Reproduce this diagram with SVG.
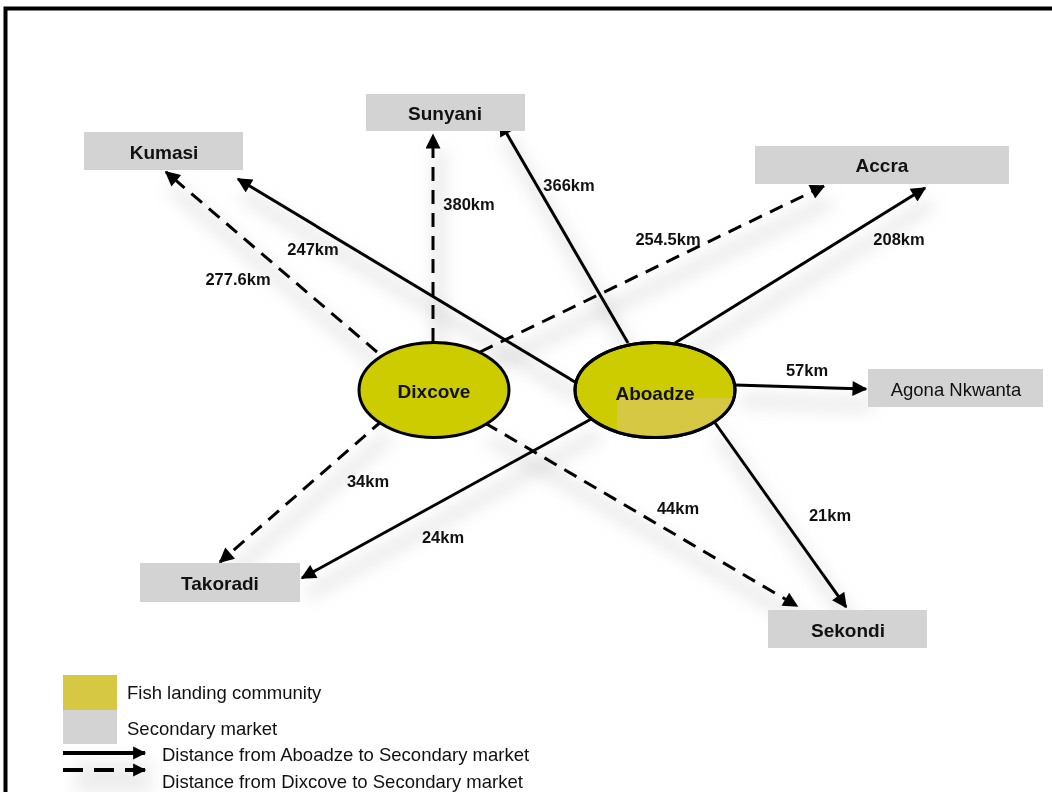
<svg xmlns="http://www.w3.org/2000/svg" width="1052" height="792" viewBox="0 0 1052 792">
<style>
.box{fill:#d3d3d3}
.bt{font-family:"Liberation Sans",Arial,sans-serif;font-weight:bold;font-size:19px;fill:#111;text-anchor:middle}
.nt{font-family:"Liberation Sans",Arial,sans-serif;font-size:18.5px;fill:#111;text-anchor:middle}
.lb{font-family:"Liberation Sans",Arial,sans-serif;font-weight:bold;font-size:16.5px;fill:#111;text-anchor:middle}
.lg{font-family:"Liberation Sans",Arial,sans-serif;font-size:18.5px;fill:#111}
.ell{fill:#cccc00;stroke:#000;stroke-width:3}
.s{stroke:#000;stroke-width:3;fill:none;marker-end:url(#ah)}
.d{stroke:#000;stroke-width:3;fill:none;stroke-dasharray:14 9;marker-end:url(#ah)}
.ls{stroke:#000;stroke-width:4;fill:none;marker-end:url(#ahl)}
.ld{stroke:#000;stroke-width:4;fill:none;stroke-dasharray:20 11;marker-end:url(#ahl)}
.sh{stroke:#c4c4c4;stroke-width:12;fill:none;opacity:0.4}
</style>
<defs>
<marker id="ah" viewBox="0 0 10 10" refX="9" refY="5" markerWidth="5.5" markerHeight="5" orient="auto" markerUnits="strokeWidth">
<path d="M0,0 L10,5 L0,10 Z" fill="#000"/>
</marker>
<marker id="ahl" viewBox="0 0 10 10" refX="9" refY="5" markerWidth="4" markerHeight="3.3" orient="auto" markerUnits="strokeWidth">
<path d="M0,0 L10,5 L0,10 Z" fill="#000"/>
</marker>
<filter id="blur" x="-20%" y="-20%" width="140%" height="140%"><feGaussianBlur stdDeviation="8"/></filter>
<clipPath id="abc"><ellipse cx="655" cy="390" rx="80" ry="47.5"/></clipPath>
</defs>
<rect x="0" y="0" width="1052" height="792" fill="#fff"/>
<rect x="5.5" y="8.5" width="1060" height="800" fill="none" stroke="#000" stroke-width="4"/>

<g id="shadows" filter="url(#blur)" transform="translate(6,16)">
<line class="sh" x1="575" y1="382" x2="238" y2="179"/>
<line class="sh" x1="628" y1="343" x2="500" y2="122"/>
<line class="sh" x1="675" y1="343" x2="925" y2="188"/>
<line class="sh" x1="735" y1="385" x2="866" y2="389"/>
<line class="sh" x1="713" y1="420" x2="846" y2="607"/>
<line class="sh" x1="593" y1="418" x2="302" y2="578"/>
<line class="sh" x1="377" y1="352" x2="166" y2="172"/>
<line class="sh" x1="433" y1="342" x2="433" y2="135"/>
<line class="sh" x1="480" y1="352" x2="824" y2="186"/>
<line class="sh" x1="383" y1="420" x2="220" y2="562"/>
<line class="sh" x1="485" y1="423" x2="797" y2="606"/>
<line class="sh" x1="70" y1="753" x2="145" y2="753"/>
<line class="sh" x1="70" y1="770" x2="145" y2="770"/>
</g>

<g id="connectors">
<line class="s" x1="575" y1="382" x2="238" y2="179"/>
<line class="s" x1="628" y1="343" x2="500" y2="122"/>
<line class="s" x1="675" y1="343" x2="925" y2="188"/>
<line class="s" x1="735" y1="385" x2="866" y2="389"/>
<line class="s" x1="713" y1="420" x2="846" y2="607"/>
<line class="s" x1="593" y1="418" x2="302" y2="578"/>
<line class="d" x1="377" y1="352" x2="166" y2="172"/>
<line class="d" x1="433" y1="342" x2="433" y2="135"/>
<line class="d" x1="480" y1="352" x2="824" y2="186"/>
<line class="d" x1="383" y1="420" x2="220" y2="562"/>
<line class="d" x1="485" y1="423" x2="797" y2="606"/>
<text class="lb" x="569" y="191">366km</text>
<text class="lb" x="469" y="210">380km</text>
<text class="lb" x="313" y="255">247km</text>
<text class="lb" x="238" y="285">277.6km</text>
<text class="lb" x="668" y="245">254.5km</text>
<text class="lb" x="899" y="245">208km</text>
<text class="lb" x="807" y="376">57km</text>
<text class="lb" x="368" y="487">34km</text>
<text class="lb" x="678" y="514">44km</text>
<text class="lb" x="830" y="521">21km</text>
<text class="lb" x="443" y="543">24km</text>
</g>

<g id="kumasi"><rect class="box" x="84" y="132" width="159" height="38"/><text class="bt" x="164" y="159">Kumasi</text></g>
<g id="sunyani"><rect class="box" x="366" y="94" width="159" height="37"/><text class="bt" x="445" y="120">Sunyani</text></g>
<g id="accra"><rect class="box" x="755" y="146" width="254" height="38"/><text class="bt" x="882" y="172">Accra</text></g>
<g id="agona"><rect class="box" x="868" y="369" width="175" height="38"/><text class="nt" x="956" y="396">Agona Nkwanta</text></g>
<g id="takoradi"><rect class="box" x="140" y="563" width="160" height="39"/><text class="bt" x="220" y="590">Takoradi</text></g>
<g id="sekondi"><rect class="box" x="768" y="610" width="159" height="38"/><text class="bt" x="848" y="637">Sekondi</text></g>

<g id="dixcove"><ellipse class="ell" cx="434" cy="390" rx="75" ry="47.5"/><text class="bt" x="434" y="398">Dixcove</text></g>
<g id="aboadze"><ellipse class="ell" cx="655" cy="390" rx="80" ry="47.5"/><rect x="617" y="398" width="120" height="42" fill="#d6c843" clip-path="url(#abc)"/><ellipse cx="655" cy="390" rx="80" ry="47.5" fill="none" stroke="#000" stroke-width="3"/><text class="bt" x="655" y="400">Aboadze</text></g>

<g id="legend">
<rect x="63" y="675" width="54" height="35" fill="#d6c843"/>
<rect x="63" y="710" width="54" height="34" fill="#d3d3d3"/>
<text class="lg" x="127" y="699">Fish landing community</text>
<text class="lg" x="127" y="735">Secondary market</text>
<line class="ls" x1="63" y1="753" x2="145" y2="753"/>
<line class="ld" x1="63" y1="770" x2="145" y2="770"/>
<text class="lg" x="162" y="761">Distance from Aboadze to Secondary market</text>
<text class="lg" x="162" y="788">Distance from Dixcove to Secondary market</text>
</g>
</svg>
